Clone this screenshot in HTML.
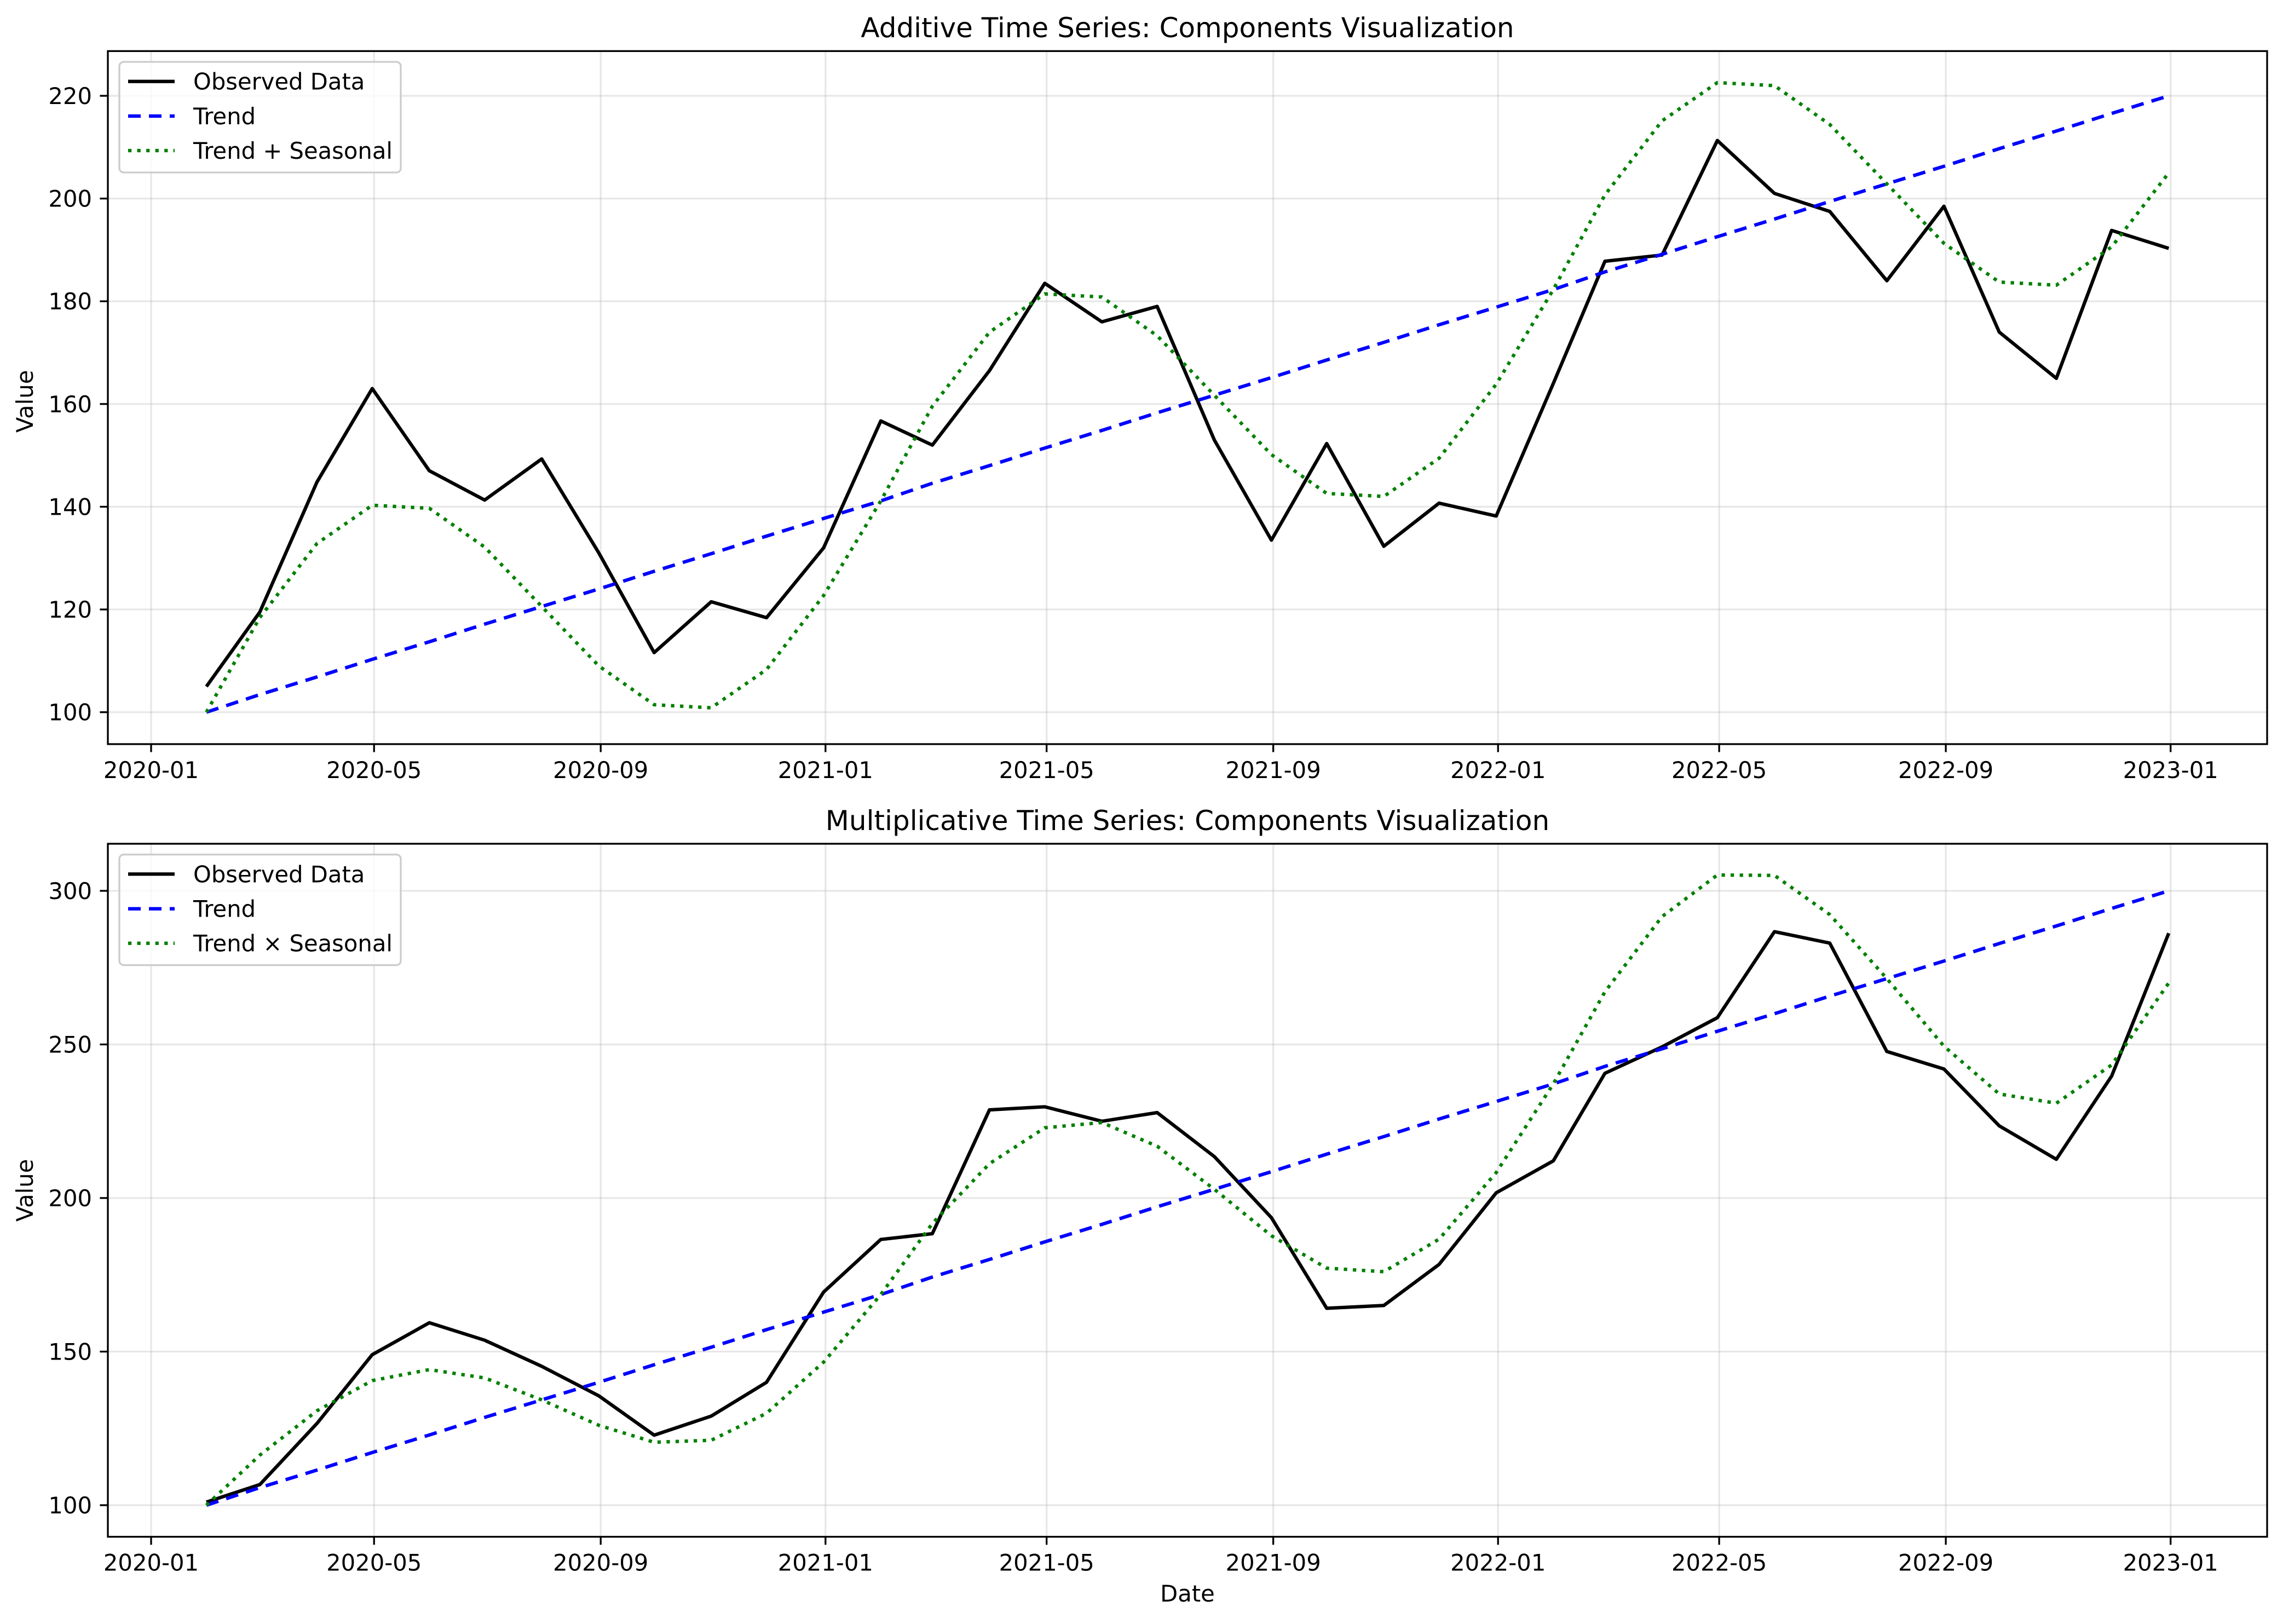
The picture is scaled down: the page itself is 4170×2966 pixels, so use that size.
<!DOCTYPE html>
<html><head><meta charset="utf-8"><style>
html,body{margin:0;padding:0;background:#fff}
svg{display:block}
text{font-family:"DejaVu Sans","Liberation Sans",sans-serif;fill:#000}
</style></head><body>
<svg id="s" width="4170" height="2966" viewBox="0 0 4170 2966" xmlns="http://www.w3.org/2000/svg">
<text x="2169" y="68" font-size="50" text-anchor="middle">Additive Time Series: Components Visualization</text>
<text x="2169" y="1516" font-size="50" text-anchor="middle">Multiplicative Time Series: Components Visualization</text>
<text x="2169" y="2925" font-size="41.7" text-anchor="middle">Date</text>
<text transform="translate(60,733) rotate(-90)" font-size="41.7" text-anchor="middle">Value</text>
<text transform="translate(60,2174) rotate(-90)" font-size="41.7" text-anchor="middle">Value</text>
</svg>
<script>
(function(){
var s=document.getElementById('s'),NS='http://www.w3.org/2000/svg';
function el(t,a,txt){var e=document.createElementNS(NS,t);for(var k in a)e.setAttribute(k,a[k]);if(txt!=null)e.textContent=txt;s.appendChild(e);return e;}
var L=197,R=4141;
var d0=Date.UTC(2020,0,1);
function xd(ms){return 276+(ms-d0)/86400000*3.3656;}
var dates=[];for(var i=0;i<36;i++){dates.push(Date.UTC(2020,i+1,0));}
var ticks=[];for(var y=2020;y<=2023;y++)for(var m=0;m<12;m+=4){if(y==2023&&m>0)break;ticks.push([Date.UTC(y,m,1),y+'-'+String(m+1).padStart(2,'0')]);}
var obsA=[105,119.5,144.8,163,147,141.3,149.3,131,111.6,121.5,118.4,132,156.7,152,166.5,183.5,176,179,153,133.5,152.3,132.3,140.7,138.2,164,187.8,189,211.3,201,197.5,184,198.5,174,165,193.8,190.3];
var obsM=[101,106.7,126.6,149,159.4,153.7,145.2,135.6,122.8,129,140,169.4,186.5,188.4,228.7,229.7,225,227.8,213.5,193.6,164.1,165,178.4,201.7,212.1,240.6,249.2,258.7,286.7,283,247.7,242,223.5,212.6,239.7,286.2];
function panel(T,B,yf,yt,obs,trend,seas,lab3){
 ticks.forEach(function(t){var x=xd(t[0]);el('line',{x1:x,x2:x,y1:T,y2:B,stroke:'#b0b0b0','stroke-opacity':0.3,'stroke-width':3.3});});
 yt.forEach(function(v){var y=yf(v);el('line',{x1:L,x2:R,y1:y,y2:y,stroke:'#b0b0b0','stroke-opacity':0.3,'stroke-width':3.3});});
 function pts(f){return dates.map(function(d,i){return xd(d).toFixed(1)+','+yf(f(i)).toFixed(1);}).join(' ');}
 el('polyline',{points:pts(function(i){return obs[i];}),fill:'none',stroke:'#000','stroke-width':6.25,'stroke-linejoin':'round'});
 el('polyline',{points:pts(trend),fill:'none',stroke:'#0000ff','stroke-width':6.25,'stroke-dasharray':'23 15'});
 el('polyline',{points:pts(seas),fill:'none',stroke:'#008000','stroke-width':6.25,'stroke-dasharray':'6.25 10.3'});
 el('rect',{x:L,y:T,width:R-L,height:B-T,fill:'none',stroke:'#000','stroke-width':3.3});
 ticks.forEach(function(t){var x=xd(t[0]);el('line',{x1:x,x2:x,y1:B,y2:B+14.6,stroke:'#000','stroke-width':3.3});el('text',{x:x,y:B+62,'font-size':41.7,'text-anchor':'middle'},t[1]);});
 yt.forEach(function(v){var y=yf(v);el('line',{x1:L,x2:L-14.6,y1:y,y2:y,stroke:'#000','stroke-width':3.3});el('text',{x:168,y:y+15,'font-size':41.7,'text-anchor':'end'},String(v));});
 var o=T-93.3;
 el('rect',{x:218,y:113+o,width:514,height:202,rx:8,fill:'#fff','fill-opacity':0.8,stroke:'#cccccc','stroke-width':3.3});
 var rows=[[148.7,'#000',null,'Observed Data'],[212,'#0000ff','23 15','Trend'],[275,'#008000','6.25 10.3',lab3]];
 rows.forEach(function(r){var a={x1:234,x2:319,y1:r[0]+o,y2:r[0]+o,stroke:r[1],'stroke-width':6.25};if(r[2])a['stroke-dasharray']=r[2];el('line',a);el('text',{x:353,y:r[0]+o+15,'font-size':41.7},r[3]);});
}
panel(93.3,1359,function(v){return 175+(220-v)*9.381;},[100,120,140,160,180,200,220],obsA,
 function(i){return 100+120*i/35;},function(i){return 100+120*i/35+30*Math.sin(2*Math.PI*i/12);},'Trend + Seasonal');
panel(1541,2806.7,function(v){return 1627+(300-v)*5.61;},[100,150,200,250,300],obsM,
 function(i){return 100+200*i/35;},function(i){return (100+200*i/35)*(1+0.2*Math.sin(2*Math.PI*i/12));},'Trend \u00d7 Seasonal');
})();
</script>
</body></html>
